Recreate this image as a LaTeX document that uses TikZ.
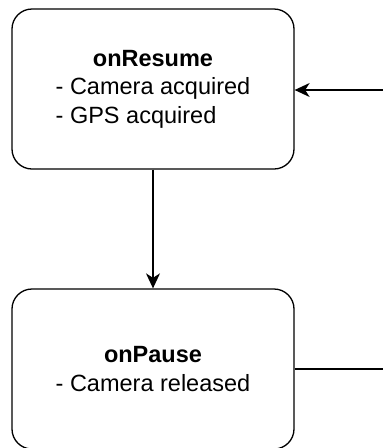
\documentclass[tikz,border=0pt]{standalone}
\usepackage{fontspec}
\setmainfont{Liberation Sans}
\usetikzlibrary{arrows.meta}
\begin{document}
\begin{tikzpicture}[x=1pt,y=-1pt,
  state/.style={draw,line width=1.3pt,rounded corners=20pt,minimum width=282pt,minimum height=160pt,
    inner sep=0pt,font=\fontsize{23.5}{28.5}\selectfont,align=center},
  flow/.style={line width=1.3pt,-{Stealth[length=15pt,width=14pt,inset=4.5pt]}},
  link/.style={line width=1.3pt}]
\useasboundingbox (0,0) rectangle (383,448);
\node[state] (resume) at (153,89)
  {\raisebox{-3pt}{\begin{tabular}{@{}l@{}}\multicolumn{1}{@{}c@{}}{\textbf{onResume}}\\- Camera acquired\\- GPS acquired\end{tabular}}};
\node[state] (pause) at (153,369)
  {\textbf{onPause}\\- Camera released};
\coordinate (inR) at (383,90);
\coordinate (outP) at (383,369);
\draw[flow] (inR) -- (resume.east |- inR);
\draw[flow] (resume.south) -- (pause.north);
\draw[link] (pause.east |- outP) -- (outP);
\end{tikzpicture}
\end{document}
